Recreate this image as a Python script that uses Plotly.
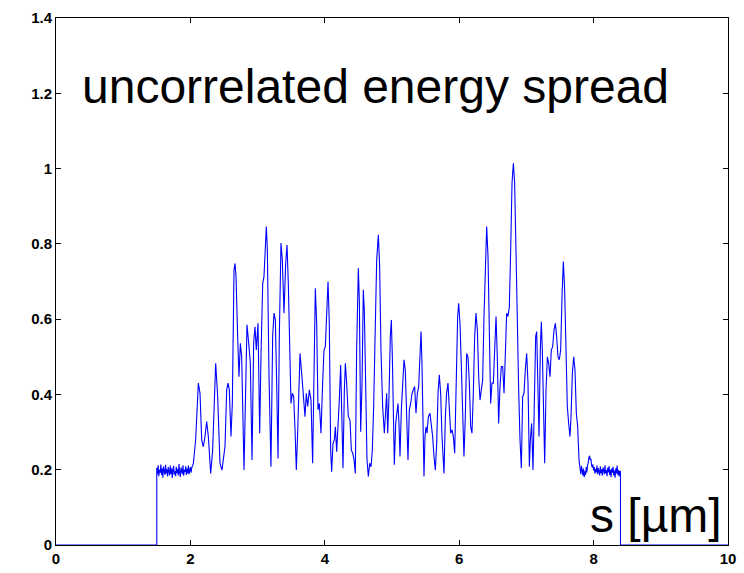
import plotly.graph_objects as go

# Longitudinal position s [µm] and uncorrelated energy spread along the bunch

# zero level before the bunch head
s_head = [0.0, 1.50]
e_head = [0.0, 0.0]

# flat noisy plateau at the bunch head
s_plateau_left = [1.50, 1.51, 1.52, 1.53, 1.54, 1.55, 1.56, 1.57, 1.58, 1.59,
                  1.60, 1.61, 1.62, 1.63, 1.64, 1.65, 1.66, 1.67, 1.68, 1.69,
                  1.70, 1.71, 1.72, 1.73, 1.74, 1.75, 1.76, 1.77, 1.78, 1.79,
                  1.80, 1.81, 1.82, 1.83, 1.84, 1.85, 1.86, 1.87, 1.88, 1.89,
                  1.90, 1.91, 1.92, 1.93, 1.94, 1.95, 1.96, 1.97, 1.98, 1.99,
                  2.00, 2.01, 2.02]
e_plateau_left = [0.205, 0.188, 0.212, 0.183, 0.200, 0.192, 0.214, 0.186, 0.203, 0.179,
                  0.209, 0.195, 0.186, 0.213, 0.190, 0.201, 0.182, 0.207, 0.197, 0.185,
                  0.211, 0.189, 0.204, 0.178, 0.199, 0.210, 0.187, 0.196, 0.183, 0.208,
                  0.191, 0.202, 0.185, 0.215, 0.193, 0.181, 0.206, 0.198, 0.188, 0.212,
                  0.184, 0.200, 0.194, 0.209, 0.186, 0.203, 0.190, 0.211, 0.188, 0.198,
                  0.207, 0.192, 0.205]

# modulated core of the bunch
s_core = [2.044, 2.078, 2.118, 2.143, 2.168, 2.192, 2.217, 2.242, 2.267, 2.302,
          2.331, 2.376, 2.406, 2.440, 2.470, 2.500, 2.515, 2.540, 2.560, 2.579,
          2.604, 2.624, 2.649, 2.664, 2.679, 2.703, 2.723, 2.743, 2.763, 2.798,
          2.822, 2.842, 2.872, 2.892, 2.917, 2.941, 2.961, 2.981, 3.006, 3.031,
          3.051, 3.076, 3.095, 3.115, 3.130, 3.145, 3.170, 3.199, 3.224, 3.244,
          3.264, 3.284, 3.304, 3.323, 3.348, 3.368, 3.393, 3.418, 3.438, 3.457,
          3.477, 3.497, 3.517, 3.537, 3.557, 3.576, 3.596, 3.616, 3.631, 3.656,
          3.681, 3.705, 3.725, 3.745, 3.770, 3.795, 3.819, 3.839, 3.859, 3.879,
          3.899, 3.919, 3.943, 3.968, 3.988, 4.008, 4.028, 4.048, 4.067, 4.087,
          4.102, 4.122, 4.142, 4.157, 4.177, 4.196, 4.216, 4.236, 4.256, 4.271,
          4.291, 4.306, 4.325, 4.350, 4.375, 4.395, 4.415, 4.435, 4.454, 4.474,
          4.499, 4.514, 4.534, 4.554, 4.573, 4.588, 4.608, 4.628, 4.648, 4.668,
          4.688, 4.707, 4.727, 4.747, 4.772, 4.797, 4.816, 4.836, 4.861, 4.886,
          4.906, 4.921, 4.936, 4.955, 4.975, 4.990, 5.005, 5.020, 5.035, 5.055,
          5.074, 5.089, 5.104, 5.119, 5.139, 5.159, 5.179, 5.198, 5.218, 5.238,
          5.258, 5.278, 5.298, 5.317, 5.337, 5.357, 5.377, 5.397, 5.417, 5.432,
          5.446, 5.461, 5.476, 5.491, 5.506, 5.521, 5.541, 5.565, 5.585, 5.605,
          5.625, 5.645, 5.665, 5.685, 5.704, 5.724, 5.744, 5.774, 5.794, 5.813,
          5.833, 5.853, 5.873, 5.893, 5.913, 5.933, 5.952, 5.977, 5.992, 6.012,
          6.032, 6.052, 6.071, 6.091, 6.111, 6.131, 6.151, 6.171, 6.190, 6.210,
          6.230, 6.250, 6.270, 6.290, 6.310, 6.329, 6.349, 6.369, 6.389, 6.409,
          6.429, 6.448, 6.468, 6.488, 6.508, 6.528, 6.548, 6.567, 6.587, 6.607,
          6.627, 6.647, 6.667, 6.687, 6.706, 6.726, 6.746, 6.766, 6.786, 6.806,
          6.825, 6.845, 6.865, 6.885, 6.905, 6.925, 6.944, 6.964, 6.984, 7.004,
          7.024, 7.044, 7.059, 7.078, 7.098, 7.118, 7.138, 7.153, 7.168, 7.188,
          7.207, 7.222, 7.237, 7.257, 7.272, 7.292, 7.312, 7.331, 7.351, 7.371,
          7.391, 7.411, 7.431, 7.450, 7.470, 7.490, 7.510, 7.530, 7.550, 7.569,
          7.589, 7.609, 7.629, 7.649, 7.664, 7.684, 7.704, 7.723, 7.743, 7.763,
          7.783]
e_core = [0.217, 0.279, 0.430, 0.403, 0.279, 0.261, 0.288, 0.328, 0.288, 0.190,
          0.252, 0.483, 0.394, 0.217, 0.199, 0.252, 0.262, 0.412, 0.430, 0.412,
          0.288, 0.376, 0.731, 0.748, 0.713, 0.554, 0.447, 0.536, 0.500, 0.199,
          0.430, 0.585, 0.527, 0.483, 0.226, 0.536, 0.580, 0.518, 0.589, 0.297,
          0.509, 0.695, 0.713, 0.802, 0.846, 0.784, 0.447, 0.208, 0.554, 0.616,
          0.598, 0.430, 0.230, 0.554, 0.802, 0.757, 0.616, 0.748, 0.797, 0.695,
          0.527, 0.376, 0.403, 0.394, 0.306, 0.199, 0.297, 0.447, 0.509, 0.456,
          0.403, 0.341, 0.403, 0.368, 0.412, 0.385, 0.217, 0.500, 0.682, 0.589,
          0.359, 0.376, 0.297, 0.430, 0.518, 0.527, 0.607, 0.700, 0.589, 0.252,
          0.195, 0.270, 0.279, 0.314, 0.248, 0.306, 0.385, 0.478, 0.341, 0.204,
          0.412, 0.483, 0.430, 0.341, 0.332, 0.252, 0.244, 0.226, 0.190, 0.518,
          0.735, 0.651, 0.301, 0.430, 0.678, 0.624, 0.430, 0.226, 0.182, 0.217,
          0.208, 0.252, 0.368, 0.554, 0.757, 0.824, 0.740, 0.518, 0.368, 0.297,
          0.376, 0.403, 0.297, 0.394, 0.554, 0.598, 0.500, 0.341, 0.213, 0.323,
          0.350, 0.376, 0.323, 0.235, 0.359, 0.447, 0.492, 0.465, 0.350, 0.226,
          0.359, 0.376, 0.403, 0.412, 0.421, 0.350, 0.403, 0.421, 0.509, 0.567,
          0.483, 0.270, 0.182, 0.288, 0.314, 0.297, 0.341, 0.350, 0.323, 0.288,
          0.235, 0.199, 0.270, 0.403, 0.452, 0.403, 0.288, 0.190, 0.341, 0.403,
          0.430, 0.368, 0.297, 0.306, 0.288, 0.244, 0.430, 0.607, 0.642, 0.589,
          0.474, 0.359, 0.235, 0.341, 0.509, 0.500, 0.430, 0.314, 0.297, 0.403,
          0.554, 0.616, 0.571, 0.447, 0.385, 0.412, 0.438, 0.607, 0.757, 0.846,
          0.766, 0.518, 0.376, 0.430, 0.430, 0.518, 0.607, 0.500, 0.323, 0.421,
          0.474, 0.474, 0.403, 0.509, 0.616, 0.607, 0.633, 0.784, 0.961, 1.014,
          0.961, 0.784, 0.554, 0.412, 0.279, 0.204, 0.394, 0.403, 0.465, 0.509,
          0.430, 0.208, 0.279, 0.323, 0.199, 0.341, 0.554, 0.567, 0.474, 0.288,
          0.518, 0.593, 0.518, 0.297, 0.217, 0.412, 0.500, 0.483, 0.447, 0.518,
          0.527, 0.571, 0.589, 0.554, 0.500, 0.492, 0.518, 0.660, 0.753, 0.678,
          0.500, 0.368, 0.323, 0.288, 0.341, 0.456, 0.500, 0.465, 0.350, 0.314,
          0.226]

# flat noisy plateau at the bunch tail
s_plateau_right = [7.80, 7.81, 7.82, 7.83, 7.84, 7.85, 7.86, 7.87, 7.88, 7.89,
                   7.90, 7.91, 7.92, 7.93, 7.94, 7.95, 7.96, 7.97, 7.98, 7.99,
                   8.00, 8.01, 8.02, 8.03, 8.04, 8.05, 8.06, 8.07, 8.08, 8.09,
                   8.10, 8.11, 8.12, 8.13, 8.14, 8.15, 8.16, 8.17, 8.18, 8.19,
                   8.20, 8.21, 8.22, 8.23, 8.24, 8.25, 8.26, 8.27, 8.28, 8.29,
                   8.30, 8.31, 8.32, 8.33, 8.34, 8.35, 8.36, 8.37, 8.38, 8.39,
                   8.40]
e_plateau_right = [0.205, 0.188, 0.210, 0.192, 0.185, 0.203, 0.180, 0.196, 0.186, 0.207,
                   0.193, 0.212, 0.218, 0.232, 0.237, 0.226, 0.229, 0.212, 0.206, 0.214,
                   0.198, 0.207, 0.190, 0.202, 0.193, 0.211, 0.188, 0.204, 0.196, 0.185,
                   0.209, 0.191, 0.201, 0.184, 0.206, 0.195, 0.188, 0.212, 0.190, 0.199,
                   0.183, 0.205, 0.193, 0.210, 0.186, 0.200, 0.181, 0.203, 0.192, 0.208,
                   0.185, 0.198, 0.179, 0.204, 0.190, 0.211, 0.187, 0.199, 0.182, 0.196,
                   0.196]

# zero level behind the bunch tail
s_tail = [8.40, 10.0]
e_tail = [0.0, 0.0]

s_all = s_head + s_plateau_left + s_core + s_plateau_right + s_tail
e_all = e_head + e_plateau_left + e_core + e_plateau_right + e_tail

x_ticks = [0, 2, 4, 6, 8, 10]
y_ticks = [0, 0.2, 0.4, 0.6, 0.8, 1.0, 1.2, 1.4]
y_tick_text = ["0", "0.2", "0.4", "0.6", "0.8", "1", "1.2", "1.4"]

fig = go.Figure()
fig.add_trace(go.Scatter(
    x=s_all, y=e_all, mode="lines",
    line=dict(color="rgb(0,0,255)", width=1.1),
    hoverinfo="skip", showlegend=False,
))

axis_font = dict(family="Liberation Sans, Arial, sans-serif", size=15, color="black")
common_axis = dict(
    showline=True, linecolor="black", linewidth=1, mirror="ticks",
    ticks="inside", ticklen=5, tickcolor="black", tickwidth=1,
    showgrid=False, zeroline=False, tickfont=axis_font, automargin=False,
)

fig.update_xaxes(range=[0, 10], tickvals=x_ticks,
                 ticktext=["<b>%d</b>" % v for v in x_ticks], **common_axis)
fig.update_yaxes(range=[0, 1.4], tickvals=y_ticks,
                 ticktext=["<b>%s</b>" % t for t in y_tick_text], **common_axis)

label_font = dict(family="Liberation Sans, Arial, sans-serif", size=48, color="black")
fig.add_annotation(x=0.35, y=1.218, xref="x", yref="y", text="uncorrelated energy spread",
                   showarrow=False, xanchor="left", yanchor="middle", font=label_font)
fig.add_annotation(x=9.94, y=0.079, xref="x", yref="y", text="s [µm]",
                   showarrow=False, xanchor="right", yanchor="middle", font=label_font)

fig.update_layout(
    width=744, height=573,
    margin=dict(l=56, r=16, t=18, b=28),
    paper_bgcolor="white", plot_bgcolor="white",
)

fig.write_html("out.html")
